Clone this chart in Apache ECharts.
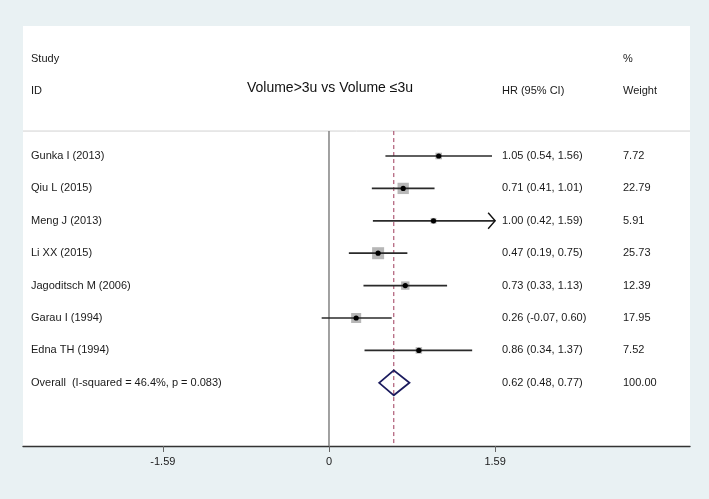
<!DOCTYPE html>
<html><head><meta charset="utf-8">
<script src="https://cdn.jsdelivr.net/npm/echarts@6/dist/echarts.min.js"></script>
<style>html,body{margin:0;padding:0;background:#e9f1f3}#c{width:709px;height:499px}</style>
</head><body><div id="c"></div>
<script>
// ---- data ----
const studies = ['Gunka I (2013)', 'Qiu L (2015)', 'Meng J (2013)', 'Li XX (2015)', 'Jagoditsch M (2006)', 'Garau I (1994)', 'Edna TH (1994)'];
const hr      = [1.05, 0.71, 1.00, 0.47, 0.73, 0.26, 0.86];
const lower   = [0.54, 0.41, 0.42, 0.19, 0.33, -0.07, 0.34];
const upper   = [1.56, 1.01, 1.594, 0.75, 1.13, 0.60, 1.37];
const upperShown = [1.56, 1.01, 1.59, 0.75, 1.13, 0.60, 1.37];
const weights = [7.72, 22.79, 5.91, 25.73, 12.39, 17.95, 7.52];
const overallLabel = 'Overall  (I-squared = 46.4%, p = 0.083)';
const overallHR = [0.62];
const overallLower = [0.48];
const overallUpper = [0.77];
const overallWeight = [100.00];
const xTicks = [-1.59, 0, 1.59];
const xTickLabels = ['-1.59', '0', '1.59'];
const xClip = 1.59;
const titleText = 'Volume>3u vs Volume \u22643u';
const headStudy = ['Study', 'ID'];
const headHR = 'HR (95% CI)';
const headW = ['%', 'Weight'];

// ---- layout ----
const FONT = '11px "Liberation Sans", Arial, sans-serif';
const TXT = '#1a1a1a';
const COL_NAME = 8, COL_HR = 479, COL_W = 600; // offsets from grid left
const fmt = v => v.toFixed(2);

const chart = echarts.init(document.getElementById('c'), null, {renderer: 'canvas'});

const studyData = studies.map((s, i) => [i, hr[i], lower[i], upper[i], weights[i]]);

chart.setOption({
  animation: false,
  backgroundColor: '#e9f1f3',
  grid: {left: 23, right: 19, top: 26, bottom: 53, show: true, backgroundColor: '#ffffff', borderWidth: 0},
  xAxis: {
    type: 'value', min: -2.928, max: 3.4545, position: 'bottom',
    splitLine: {show: false},
    axisLine: {show: true, onZero: false, lineStyle: {color: '#333', width: 1.4}},
    axisTick: {show: true, customValues: xTicks, length: 6, lineStyle: {color: '#666', width: 1}},
    axisLabel: {show: true, customValues: xTicks, margin: 10, color: TXT, fontSize: 11,
      fontFamily: '"Liberation Sans", Arial, sans-serif',
      formatter: v => { const k = xTicks.findIndex(t => Math.abs(t - v) < 1e-6); return k >= 0 ? xTickLabels[k] : ''; }}
  },
  yAxis: {type: 'value', inverse: true, min: -4.012, max: 8.95, show: false},
  series: [
    {
      // frame: separator, reference lines, headers
      type: 'custom', z: 1, silent: true,
      data: [[0]],
      renderItem(params, api) {
        const cs = params.coordSys;
        const ySep = api.coord([0, -0.77])[1];
        const yBot = cs.y + cs.height;
        const x0 = api.coord([0, 0])[0];
        const xo = api.coord([overallHR[0], 0])[0];
        const yS = api.coord([0, -3])[1];
        const yI = api.coord([0, -2])[1];
        const t = (text, x, y, extra) => ({type: 'text', style: Object.assign({text, x, y, font: FONT, fill: TXT, verticalAlign: 'middle', align: 'left'}, extra || {})});
        return {type: 'group', children: [
          {type: 'line', shape: {x1: cs.x, y1: ySep, x2: cs.x + cs.width, y2: ySep}, style: {stroke: '#d2d2d2', lineWidth: 1}},
          {type: 'line', shape: {x1: x0, y1: ySep, x2: x0, y2: yBot}, style: {stroke: '#7a7a7a', lineWidth: 1.4}},
          {type: 'line', shape: {x1: xo, y1: ySep, x2: xo, y2: yBot}, style: {stroke: '#9e3a5a', lineWidth: 1, lineDash: [4, 3]}},
          t(headStudy[0], cs.x + COL_NAME, yS),
          t(headStudy[1], cs.x + COL_NAME, yI),
          t(headHR, cs.x + COL_HR, yI),
          t(headW[0], cs.x + COL_W, yS),
          t(headW[1], cs.x + COL_W, yI),
          t(titleText, x0 + 1, yI - 3, {font: '14px "Liberation Sans", Arial, sans-serif', align: 'center', fill: '#111'})
        ]};
      }
    },
    {
      type: 'custom', z: 3, silent: true,
      data: studyData,
      renderItem(params, api) {
        const cs = params.coordSys;
        const row = api.value(0), est = api.value(1), lo = api.value(2), hi = api.value(3), w = api.value(4);
        const pE = api.coord([est, row]);
        const pL = api.coord([lo, row]);
        const pH = api.coord([Math.min(hi, xClip), row]);
        const side = Math.sqrt(w) * 2.37;
        const y = pE[1];
        const i = params.dataIndex;
        const ch = [
          {type: 'rect', shape: {x: pE[0] - side / 2, y: y - side / 2, width: side, height: side}, style: {fill: '#b7b7b7'}},
          {type: 'line', shape: {x1: pL[0], y1: y, x2: pH[0], y2: y}, style: {stroke: '#2a2a2a', lineWidth: 1.7}},
          {type: 'circle', shape: {cx: pE[0], cy: y, r: 2.6}, style: {fill: '#000'}},
          {type: 'text', style: {text: studies[i], x: cs.x + COL_NAME, y, font: FONT, fill: TXT, verticalAlign: 'middle'}},
          {type: 'text', style: {text: fmt(est) + ' (' + fmt(lo) + ', ' + fmt(upperShown[i]) + ')', x: cs.x + COL_HR, y, font: FONT, fill: TXT, verticalAlign: 'middle'}},
          {type: 'text', style: {text: fmt(w), x: cs.x + COL_W, y, font: FONT, fill: TXT, verticalAlign: 'middle'}}
        ];
        if (hi > xClip) {
          ch.push({type: 'polyline', shape: {points: [[pH[0] - 7, y - 8], [pH[0], y], [pH[0] - 7, y + 8]]}, style: {stroke: '#111', lineWidth: 1.4, fill: null}});
        }
        return {type: 'group', children: ch};
      }
    },
    {
      type: 'custom', z: 3, silent: true,
      data: [[studies.length, overallHR[0], overallLower[0], overallUpper[0], overallWeight[0]]],
      renderItem(params, api) {
        const cs = params.coordSys;
        const row = api.value(0), est = api.value(1), lo = api.value(2), hi = api.value(3), w = api.value(4);
        const pE = api.coord([est, row]);
        const pL = api.coord([lo, row]);
        const pH = api.coord([hi, row]);
        const y = pE[1], h = 12.5;
        return {type: 'group', children: [
          {type: 'polygon', shape: {points: [[pL[0], y], [pE[0], y - h], [pH[0], y], [pE[0], y + h]]}, style: {stroke: '#1b1b5e', lineWidth: 1.8, fill: null}},
          {type: 'text', style: {text: overallLabel, x: cs.x + COL_NAME, y, font: FONT, fill: TXT, verticalAlign: 'middle'}},
          {type: 'text', style: {text: fmt(est) + ' (' + fmt(lo) + ', ' + fmt(hi) + ')', x: cs.x + COL_HR, y, font: FONT, fill: TXT, verticalAlign: 'middle'}},
          {type: 'text', style: {text: fmt(w), x: cs.x + COL_W, y, font: FONT, fill: TXT, verticalAlign: 'middle'}}
        ]};
      }
    }
  ]
});
</script></body></html>
